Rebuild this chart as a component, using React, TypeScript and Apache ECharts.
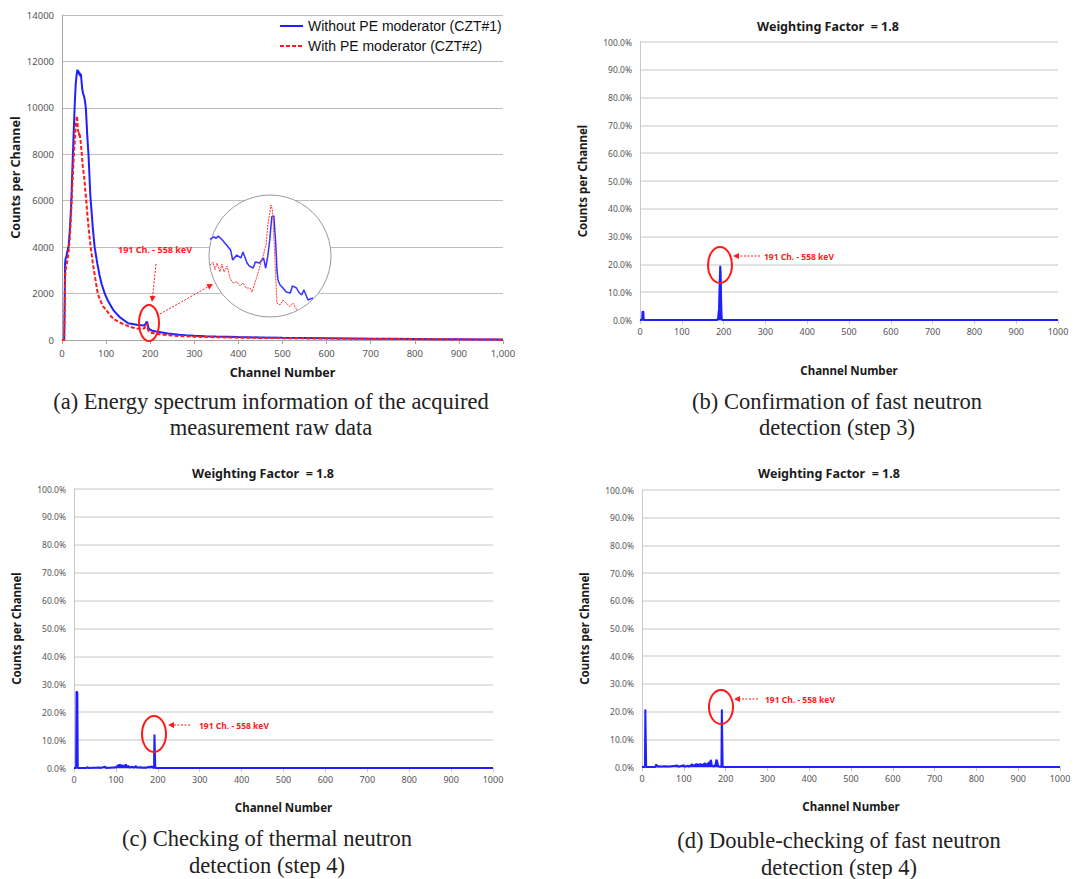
import React, { useEffect, useRef } from "react";
import * as echarts from "echarts";

// ---------- Panel (a): raw energy spectra ----------
const blueCh = [0,5,6,7,8,10,12,15,18,21,24,27,29,31,33,35,36,37,38,39,40,41,42,43,44,45,46,48,50,52,54,56,57,59,60,62,64,66,70,74,80,85,90,97,104,110,116,123,130,137,143,150,160,170,180,185,189,191,193,194,196,198,200,205,210,215,220,230,240,250,265,280,300,325,350,375,400,450,500,550,600,650,700,750,800,850,900,950,1000];
const blueCounts = [0,0,1500,3300,3500,3600,3800,4050,4800,5900,7600,9200,10200,11000,11400,11650,11500,11600,11450,11550,11400,11500,11350,11450,11200,11000,10800,10600,10500,10300,10000,9300,8900,8300,8000,7200,6300,5800,4800,4000,3300,2800,2400,2000,1700,1500,1300,1150,1000,900,820,720,690,660,640,620,680,760,790,700,520,470,440,400,380,360,340,310,280,260,230,210,185,165,150,140,125,110,95,85,75,65,55,50,42,35,30,25,20];

const redCh = [0,5,6,7,8,10,12,15,18,21,24,27,30,32,34,35,36,37,38,39,40,41,42,44,45,47,49,51,53,55,58,61,65,70,75,81,87,93,100,106,112,120,130,140,153,160,170,180,186,189,191,192,193,194,196,198,200,205,210,215,220,230,240,250,265,280,300,325,350,375,400,450,500,550,600,650,700,750,800,850,900,950,1000];
const redCounts = [0,0,1200,2700,3000,3200,3400,3800,4500,5600,6900,8000,8900,9400,9650,9400,9100,8950,9000,8800,8900,8700,8600,8200,8000,7500,7200,6900,6400,6000,5300,4700,4000,3300,2700,2000,1700,1450,1300,1150,1000,880,760,680,575,540,500,480,500,580,680,720,650,520,400,340,320,300,280,265,250,230,210,195,175,160,145,130,120,110,100,90,80,70,62,55,48,42,36,30,25,20,15];

// magnified inset around the 191 ch peak
const insetBlueCh = [162,164,165,166,168,170,172,173,175,177,178,180,181,183,184,186,188,189,190,191,192,193,193.3,194,194.5,195,196,197,199,201,202,204,205,206.5,207.6,209.6,212];
const insetBlueCounts = [654,669,661,675,650,619,588,525,556,538,575,506,488,475,513,506,538,475,544,650,796,800,744,606,463,400,369,356,325,319,363,350,325,306,338,275,288];
const insetRedCh = [162,163.5,164.4,165.4,166.9,167.8,168.8,170.3,171.7,173.2,175,176.6,178,179.5,181.4,182.4,183.8,185.3,186.3,187.7,189.2,190.2,191.1,191.6,192.3,192.6,193.6,194.5,196,197.4,198.4,199.9,200.8,202.3,204.1];
const insetRedCounts = [494,513,463,506,452,500,450,488,413,381,389,363,381,350,350,325,381,444,488,546,619,756,825,869,838,775,506,256,244,275,264,244,233,256,213];

// ---------- Panel (b): fast neutron confirmation (step 3) ----------
const bCh = [0,5,6,7,8,9,185,187,189,190,191,192,193,194,195,196,1000];
const bPct = [0,0,3.0,3.2,3.0,0,0,1.0,4.0,10.0,15.0,19.5,17.0,8.0,2.0,0,0];

// ---------- Panel (c): thermal neutron check (step 4) ----------
const cCh = [0,5,6,7,8,9,30,32,34,60,62,75,76,77,100,102,104,106,108,110,112,114,116,118,120,122,124,126,128,130,132,140,142,148,150,160,162,170,172,180,182,186,188,191,192,193,194,1000];
const cPct = [0,0,27.5,27.5,27.0,0,0,0.4,0,0.2,0,0.5,0,0,0.3,0.2,1.0,0.8,1.2,0.9,1.1,0.3,0.6,1.0,0.5,0.4,1.3,0.4,0.3,0.8,0.2,0.5,0.1,0.7,0.2,0.3,0.1,0.2,0.1,0.5,0.2,0.6,0.2,0,12.0,12.0,0,0];

// ---------- Panel (d): fast neutron double-check (step 4) ----------
const dCh = [0,7,8,9,10,32,34,36,40,45,55,65,85,87,100,102,110,112,120,122,130,135,140,145,150,155,160,163,165,167,172,176,178,180,182,190,191,192,193,1000];
const dPct = [0,0,20.8,20.8,0,0,1.0,0.2,0.3,0.2,0.3,0.2,0.5,0.1,0.6,0.1,0.5,0.1,1.0,0.3,1.0,0.8,1.0,0.7,1.3,0.8,1.6,1.5,2.6,0.5,0.2,1.0,2.6,2.0,0.3,0,20.8,20.8,0,0];

const legendNames = ["Without PE moderator (CZT#1)", "With PE moderator (CZT#2)"];
const peakLabel = "191 Ch. - 558 keV";
const panelTitle = "Weighting Factor  = 1.8";
const yName = "Counts per Channel";
const xName = "Channel Number";
const captions = [
  ["(a) Energy spectrum information of the acquired", "measurement raw data"],
  ["(b) Confirmation of fast neutron", "detection (step 3)"],
  ["(c) Checking of thermal neutron", "detection (step 4)"],
  ["(d) Double-checking of fast neutron", "detection (step 4)"],
];

const zip = (xs: number[], ys: number[]) => xs.map((x, i) => [x, ys[i]]);

const BLUE = "#2020ff";
const RED = "#ff1a1a";
const LABEL_FONT = "'Noto Sans', sans-serif";

function arrow(x1: number, y1: number, x2: number, y2: number) {
  const a = Math.atan2(y2 - y1, x2 - x1);
  const L = 6, W = 3;
  const bx = x2 - L * Math.cos(a), by = y2 - L * Math.sin(a);
  return [
    { type: "line", z: 10, shape: { x1, y1, x2: bx, y2: by }, style: { stroke: RED, lineWidth: 1, lineDash: [2, 1.5] } },
    {
      type: "polygon", z: 10,
      shape: { points: [[x2, y2], [bx + W * Math.sin(a), by - W * Math.cos(a)], [bx - W * Math.sin(a), by + W * Math.cos(a)]] },
      style: { fill: RED },
    },
  ];
}

function ellipse(cx: number, cy: number, rx: number, ry: number) {
  return { type: "ellipse", z: 10, shape: { cx, cy, rx, ry }, style: { fill: "none", stroke: RED, lineWidth: 2 } };
}

function redText(x: number, y: number, size: number) {
  return { type: "text", z: 10, x, y, style: { text: peakLabel, fill: RED, font: `bold ${size}px ${LABEL_FONT}`, textVerticalAlign: "middle" } };
}

function centerText(x: number, y: number, text: string, font: string, fill = "#1a1a1a") {
  return { type: "text", z: 10, x, y, style: { text, fill, font, textAlign: "center", textVerticalAlign: "middle" } };
}

function pctYAxis(gridIndex: number) {
  return {
    type: "value", gridIndex, min: 0, max: 100, interval: 10,
    axisLine: { show: true, lineStyle: { color: "#c8c8c8" } },
    axisTick: { show: false },
    splitLine: { lineStyle: { color: "#d9d9d9", width: 1.5 } },
    axisLabel: { formatter: (v: number) => v.toFixed(1) + "%", fontSize: 8.5, color: "#555", margin: 8, fontFamily: LABEL_FONT },
    name: yName, nameLocation: "middle", nameRotate: 90, nameGap: 52,
    nameTextStyle: { fontSize: 11.5, fontWeight: "bold", color: "#1a1a1a", fontFamily: LABEL_FONT },
  };
}

function chXAxis(gridIndex: number, nameGap: number) {
  return {
    type: "value", gridIndex, min: 0, max: 1000, interval: 100,
    axisLine: { show: true, lineStyle: { color: "#c8c8c8" } },
    axisTick: { show: true, length: 4, lineStyle: { color: "#c8c8c8" } },
    splitLine: { show: false },
    axisLabel: { fontSize: 9, color: "#555", margin: 7, fontFamily: LABEL_FONT, formatter: (v: number) => String(v) },
    name: xName, nameLocation: "middle", nameGap,
    nameTextStyle: { fontSize: 11.5, fontWeight: "bold", color: "#1a1a1a", fontFamily: LABEL_FONT },
  };
}

function spikeSeries(idx: number, name: string, xs: number[], ys: number[]) {
  return {
    type: "line", name, xAxisIndex: idx, yAxisIndex: idx, data: zip(xs, ys),
    showSymbol: false, symbol: "none",
    lineStyle: { color: BLUE, width: 2 }, itemStyle: { color: BLUE },
    areaStyle: { color: BLUE, opacity: 1 },
  };
}

export default function App() {
  const ref = useRef<HTMLDivElement>(null);
  useEffect(() => {
    if (!ref.current) return;
    const chart = echarts.init(ref.current, undefined, { renderer: "svg" });
    const serif = "22.5px 'Liberation Serif', 'Times New Roman', serif";
    const titleFont = `bold 12.5px ${LABEL_FONT}`;
    const option: any = {
      animation: false,
      backgroundColor: "#ffffff",
      legend: {
        data: legendNames, orient: "vertical", left: 274, top: 14,
        itemWidth: 23, itemHeight: 14, itemGap: 6,
        itemStyle: { opacity: 0 },
        textStyle: { fontSize: 14, color: "#111", fontFamily: "'Liberation Sans', Arial, sans-serif" },
      },
      grid: [
        { left: 62, top: 15, width: 441, height: 325 },
        { left: 640, top: 42, width: 418, height: 278 },
        { left: 74, top: 489, width: 419, height: 279 },
        { left: 642, top: 490, width: 418, height: 277 },
        { left: 210, top: 200, width: 103, height: 112 },
      ],
      xAxis: [
        {
          type: "value", gridIndex: 0, min: 0, max: 1000, interval: 100,
          axisLine: { show: true, lineStyle: { color: "#a6a6a6" } },
          axisTick: { show: true, length: 4, lineStyle: { color: "#a6a6a6" } },
          splitLine: { show: false },
          axisLabel: { fontSize: 9.5, color: "#555", margin: 8, fontFamily: LABEL_FONT,
            formatter: (v: number) => v.toLocaleString("en-US") },
          name: xName, nameLocation: "middle", nameGap: 26,
          nameTextStyle: { fontSize: 12.5, fontWeight: "bold", color: "#1a1a1a", fontFamily: LABEL_FONT },
        },
        chXAxis(1, 44),
        chXAxis(2, 33),
        chXAxis(3, 33),
        { type: "value", gridIndex: 4, min: 162, max: 212, show: false, splitLine: { show: false } },
      ],
      yAxis: [
        {
          type: "value", gridIndex: 0, min: 0, max: 14000, interval: 2000,
          axisLine: { show: true, lineStyle: { color: "#a6a6a6" } },
          axisTick: { show: false },
          splitLine: { lineStyle: { color: "#bdbdbd", width: 1 } },
          axisLabel: { fontSize: 9.5, color: "#555", margin: 8, fontFamily: LABEL_FONT, formatter: (v: number) => String(v) },
          name: yName, nameLocation: "middle", nameRotate: 90, nameGap: 40,
          nameTextStyle: { fontSize: 12.5, fontWeight: "bold", color: "#1a1a1a", fontFamily: LABEL_FONT },
        },
        pctYAxis(1),
        pctYAxis(2),
        pctYAxis(3),
        { type: "value", gridIndex: 4, min: 200, max: 900, show: false, splitLine: { show: false } },
      ],
      series: [
        {
          type: "line", name: legendNames[0], xAxisIndex: 0, yAxisIndex: 0, data: zip(blueCh, blueCounts),
          showSymbol: false, symbol: "none", lineStyle: { color: BLUE, width: 2 }, itemStyle: { color: BLUE }, z: 4,
        },
        {
          type: "line", name: legendNames[1], xAxisIndex: 0, yAxisIndex: 0, data: zip(redCh, redCounts),
          showSymbol: false, symbol: "none", lineStyle: { color: RED, width: 2, type: [4, 2] }, itemStyle: { color: RED }, z: 5,
        },
        {
          type: "line", name: "inset-without", xAxisIndex: 4, yAxisIndex: 4, data: zip(insetBlueCh, insetBlueCounts),
          showSymbol: false, symbol: "none", lineStyle: { color: "#3333ff", width: 1.5 }, z: 12,
        },
        {
          type: "line", name: "inset-with", xAxisIndex: 4, yAxisIndex: 4, data: zip(insetRedCh, insetRedCounts),
          showSymbol: false, symbol: "none", lineStyle: { color: "#ff3333", width: 1, type: [2, 1] }, z: 12,
        },
        spikeSeries(1, "step3", bCh, bPct),
        spikeSeries(2, "step4-thermal", cCh, cPct),
        spikeSeries(3, "step4-fast", dCh, dPct),
      ],
      graphic: [
        { type: "circle", z: 8, shape: { cx: 270, cy: 256, r: 61 }, style: { fill: "#ffffff", stroke: "#9a9a9a", lineWidth: 1 } },
        ellipse(149, 323, 10, 18),
        redText(118, 249, 9),
        ...arrow(156, 264, 152, 302),
        ...arrow(160, 314, 213, 284),
        centerText(828, 26, panelTitle, titleFont),
        ellipse(720, 265, 12, 18),
        ...arrow(760, 256, 733, 256),
        redText(764, 256, 8.5),
        centerText(263, 473, panelTitle, titleFont),
        ellipse(154, 734, 12, 18),
        ...arrow(190, 725, 168, 725),
        redText(199, 725, 8.5),
        centerText(829, 473, panelTitle, titleFont),
        ellipse(721, 707, 12, 17),
        ...arrow(758, 699, 734, 699),
        redText(765, 699, 8.5),
        centerText(271, 401, captions[0][0], serif, "#222"),
        centerText(271, 427, captions[0][1], serif, "#222"),
        centerText(837, 401, captions[1][0], serif, "#222"),
        centerText(837, 427, captions[1][1], serif, "#222"),
        centerText(267, 838, captions[2][0], serif, "#222"),
        centerText(267, 865, captions[2][1], serif, "#222"),
        centerText(839, 840, captions[3][0], serif, "#222"),
        centerText(839, 867, captions[3][1], serif, "#222"),
      ],
    };
    chart.setOption(option);
    return () => chart.dispose();
  }, []);
  return <div ref={ref} style={{ position: "absolute", left: 0, top: 0, width: 1074, height: 879 }} />;
}
